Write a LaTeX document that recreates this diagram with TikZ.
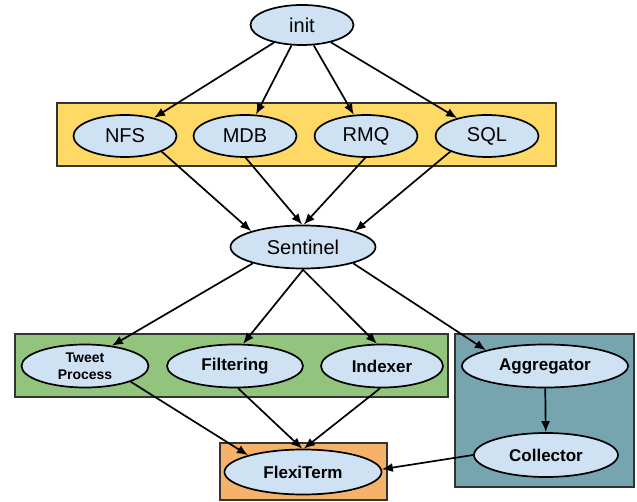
\documentclass[tikz,border=0pt]{standalone}
\usepackage{fontspec}
\setmainfont{Liberation Sans}
\usepackage{tikz}
\usetikzlibrary{positioning, arrows.meta, shapes.geometric}
\definecolor{nodeblue}{HTML}{CFE2F3}
\definecolor{infrayellow}{HTML}{FFD966}
\definecolor{workgreen}{HTML}{93C47D}
\definecolor{aggteal}{HTML}{76A5AF}
\definecolor{termorange}{HTML}{F6B26B}
\tikzstyle{service} = [ellipse, draw=black, line width=1.7pt, fill=nodeblue, inner sep=0pt, minimum height=42pt, text centered]
\tikzstyle{infra} = [service, font=\fontsize{20}{24}\selectfont]
\tikzstyle{worker} = [service, font=\fontsize{17}{20}\selectfont\bfseries]
\tikzstyle{group} = [draw=black!80, line width=1.7pt]
\tikzstyle{arrow} = [line width=1.7pt,->,>={Latex[length=11pt,width=9pt]}]

\begin{document}
\begin{tikzpicture}[x=1pt, y=-1pt]
\useasboundingbox (0,0) rectangle (637,502);

% background groups
\draw [group, fill=infrayellow] (57,103) rectangle (556,166);
\draw [group, fill=workgreen] (15,334) rectangle (448,397);
\draw [group, fill=aggteal] (455,334) rectangle (634,487);
\draw [group, fill=termorange] (220,443) rectangle (387,500);

\node (init) [infra, minimum width=103pt, minimum height=40pt] at (302,25) {init};
\node (nfs) [infra, minimum width=103pt] at (125,136) {NFS};
\node (mdb) [infra, minimum width=103pt] at (245,136) {MDB};
\node (rmq) [infra, minimum width=103pt] at (366,136) {RMQ};
\node (sql) [infra, minimum width=103pt] at (487,136) {SQL};
\node (sentinel) [infra, minimum width=145pt, minimum height=43pt] at (303,247) {Sentinel};

\node (tweet) [worker, minimum width=127pt, minimum height=43pt, align=center, font=\fontsize{14}{17}\selectfont\bfseries] at (85,366) {Tweet\\Process};
\node (filtering) [worker, minimum width=136pt, minimum height=43pt] at (235,366) {Filtering};
\node (indexer) [worker, minimum width=122pt, minimum height=43pt] at (382,366) {Indexer};
\node (aggregator) [worker, minimum width=166pt, minimum height=43pt] at (545,366) {Aggregator};
\node (collector) [worker, minimum width=144pt, minimum height=44pt] at (546,455) {Collector};
\node (flexiterm) [worker, minimum width=157pt, minimum height=45pt] at (303,472) {FlexiTerm};

% init fans out to the services
\draw [arrow] (init) -- (nfs);
\draw [arrow] (init) -- (mdb);
\draw [arrow] (init) -- (rmq);
\draw [arrow] (init) -- (sql);

\draw [arrow] (nfs.337) -- (sentinel.163);
\draw [arrow] (mdb.272) -- (sentinel.92);
\draw [arrow] (rmq.268) -- (sentinel.88);
\draw [arrow] (sql.203) -- (sentinel.17);

\draw [arrow] (sentinel.198) -- (tweet.37);
\draw [arrow] (sentinel.271) -- (filtering.70);
\draw [arrow] (sentinel.269) -- (indexer.103);
\draw [arrow] (sentinel.342) -- (aggregator.165);

% everything ends up in flexiterm
\draw [arrow] (tweet.341) -- (flexiterm.163);
\draw [arrow] (filtering.278) -- (flexiterm.92);
\draw [arrow] (indexer.265) -- (flexiterm.88);
\draw [arrow] (aggregator) -- (collector);
\draw [arrow] (collector.west) -- (flexiterm.2);
\end{tikzpicture}
\end{document}
